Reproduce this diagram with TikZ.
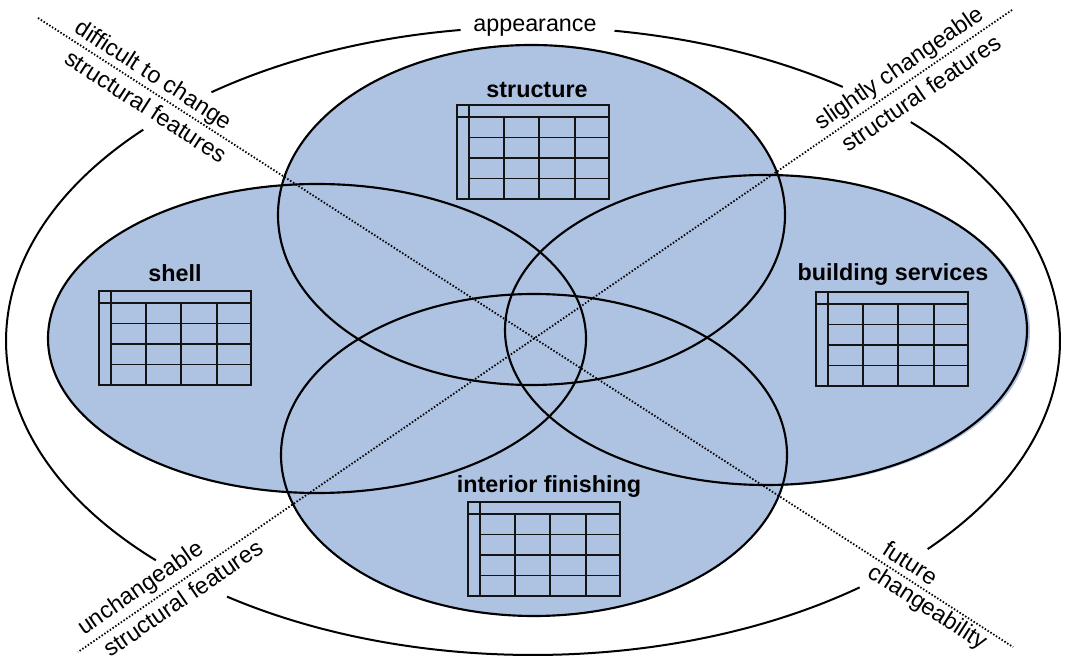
\documentclass[tikz,border=0pt]{standalone}
\usepackage{fontspec}
\setmainfont{Liberation Sans}
\definecolor{ellblue}{RGB}{174,194,226}
\tikzset{
  lbl/.style={font=\fontsize{17.5}{20}\selectfont, inner sep=0pt, anchor=center},
  ttl/.style={font=\fontsize{17.5}{20}\selectfont\bfseries, inner sep=0pt, anchor=center},
  ring/.style={line width=1.5pt, black},
  eline/.style={line width=1.6pt, black},
  efill/.style={fill=ellblue},
  dotline/.style={line width=1.35pt, dash pattern=on 1.1pt off 1.4pt},
  tblline/.style={line width=1.1pt, black!92},
  tbl/.pic={
    \draw[tblline] (0,0) rectangle (152,-94);
    \draw[tblline] (0,-12) -- (152,-12);
    \draw[tblline] (12,0) -- (12,-94);
    \foreach \yy in {-32.5,-53,-73.5} \draw[tblline] (12,\yy) -- (152,\yy);
    \foreach \xx in {47,82,118} \draw[tblline] (\xx,-12) -- (\xx,-94);
  }
}
\begin{document}
\begin{tikzpicture}[x=0.75pt,y=0.75pt]
\useasboundingbox (0,0) rectangle (1066,660);
% outer ring (broken where labels sit)
\begin{scope}[shift={(533,319)}]
  \draw[ring] (137.7:527 and 314) arc[start angle=137.7, end angle=224.3, x radius=527, y radius=314];
  \draw[ring] (234.5:527 and 314) arc[start angle=234.5, end angle=308.3, x radius=527, y radius=314];
  \draw[ring] (318.5:527 and 314) arc[start angle=318.5, end angle=404.2, x radius=527, y radius=314];
  \draw[ring] (54:527 and 314) arc[start angle=54, end angle=81.1, x radius=527, y radius=314];
  \draw[ring] (97.9:527 and 314) arc[start angle=97.9, end angle=127.6, x radius=527, y radius=314];
\end{scope}
% fills
\path[efill] (769,329) ellipse [x radius=261, y radius=155];
\path[efill] (531.5,445) ellipse [x radius=253.5, y radius=170];
\path[efill] (534,205) ellipse [x radius=253, y radius=161];
\path[efill] (317,321.5) ellipse [x radius=269, y radius=154.5];
\path[efill] (766,330) ellipse [x radius=261, y radius=155];
% outlines
\draw[eline] (531.5,445) ellipse [x radius=253.5, y radius=170];
\draw[eline] (534,205) ellipse [x radius=253, y radius=161];
\draw[eline] (317,321.5) ellipse [x radius=269, y radius=154.5];
\draw[eline] (766,330) ellipse [x radius=261, y radius=155];
% dotted diagonals
\coordinate (d1a) at (38,642);
\coordinate (d1b) at (1013,13);
\coordinate (d2a) at (1012,650);
\coordinate (d2b) at (78,8);
\draw[dotline] (d1a) -- (d1b);
\draw[dotline] (d2a) -- (d2b);
% tables and titles
\pic at (457,555) {tbl};
\node[ttl] (tstructure) at (537,570) {structure};
\pic at (99,369) {tbl};
\node[ttl] (tshell) at (175,387) {shell};
\pic at (816,368) {tbl};
\node[ttl] (tservices) at (893,385) {building services};
\pic at (468,158) {tbl};
\node[ttl] (tinterior) at (549,173) {interior finishing};
% labels
\node[lbl] (appearance) at (535,632) {appearance};
\node[lbl, rotate=-32.8] (difficult) at (153,584) {difficult to change};
\node[lbl, rotate=-32.8] (sfTL) at (146,554) {structural features};
\node[lbl, rotate=34.5] (slightly) at (900,591) {slightly changeable};
\node[lbl, rotate=34.5] (sfTR) at (921,567) {structural features};
\node[lbl, rotate=34.5] (unchangeable) at (141,71) {unchangeable};
\node[lbl, rotate=34.5] (sfBL) at (183,62) {structural features};
\node[lbl, rotate=-32.8] (future) at (911,97) {future};
\node[lbl, rotate=-32.8] (changeability) at (927,52) {changeability};
\end{tikzpicture}
\end{document}
